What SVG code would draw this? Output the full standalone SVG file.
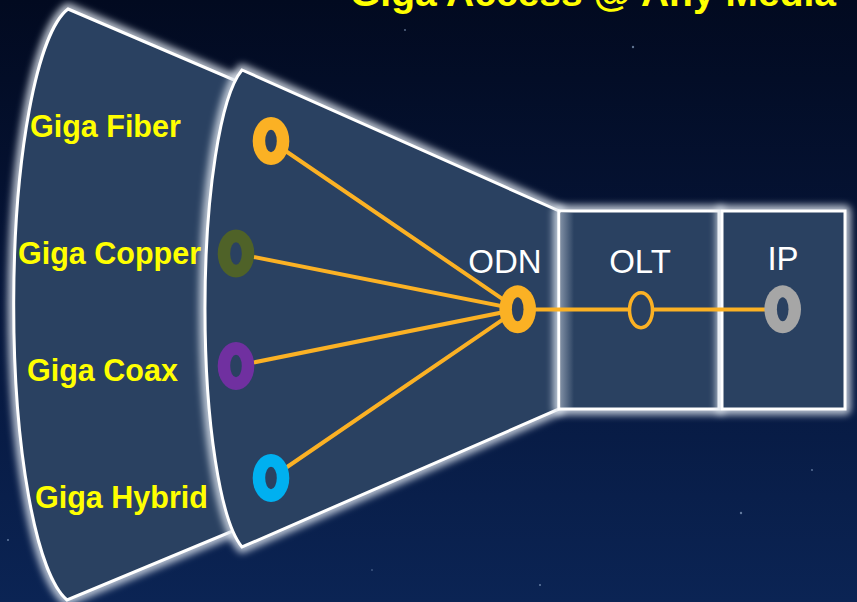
<svg xmlns="http://www.w3.org/2000/svg" width="857" height="602" viewBox="0 0 857 602">
  <defs>
    <linearGradient id="bg" x1="0" y1="0" x2="0" y2="1">
      <stop offset="0" stop-color="#020a20"/>
      <stop offset="0.55" stop-color="#06173d"/>
      <stop offset="1" stop-color="#0b2454"/>
    </linearGradient>
    <linearGradient id="innerGlow" x1="0" y1="0" x2="1" y2="0">
      <stop offset="0" stop-color="#dfe6ef" stop-opacity="0.45"/>
      <stop offset="1" stop-color="#dfe6ef" stop-opacity="0"/>
    </linearGradient>
    <filter id="blur" x="-20%" y="-20%" width="140%" height="140%">
      <feGaussianBlur stdDeviation="3.5"/>
    </filter>
  </defs>
  <style>
    .glow { fill: none; stroke: #dfe6ef; stroke-width: 12; stroke-opacity: 0.8; filter: url(#blur); stroke-linejoin: round; }
    .panel { fill: #2a4161; stroke: #ffffff; stroke-width: 3; stroke-linejoin: miter; }
    .media { font-family: "Liberation Sans", Arial, sans-serif; font-weight: bold; font-size: 30.5px; fill: #ffff00; }
    .stage { font-family: "Liberation Sans", Arial, sans-serif; font-size: 33px; fill: #ffffff; text-anchor: middle; }
    .title { font-family: "Liberation Sans", Arial, sans-serif; font-weight: bold; font-size: 39px; fill: #ffff00; text-anchor: end; }
    .link { fill: none; stroke: #fbb124; stroke-width: 4; stroke-linecap: round; }
    .hole { fill: #2a4161; }
    .star { fill: #9fb8d8; }
  </style>

  <rect x="0" y="0" width="857" height="602" fill="url(#bg)"/>
  <g id="stars" opacity="0.6">
    <circle class="star" cx="633" cy="47" r="1.2"/>
    <circle class="star" cx="22" cy="178" r="1.3"/>
    <circle class="star" cx="8" cy="540" r="1"/>
    <circle class="star" cx="741" cy="513" r="1.2"/>
    <circle class="star" cx="405" cy="30" r="0.9"/>
    <circle class="star" cx="540" cy="585" r="1"/>
    <circle class="star" cx="812" cy="470" r="0.9"/>
    <circle class="star" cx="372" cy="570" r="0.8"/>
  </g>

  <text id="title" class="title" x="836" y="6">Giga Access @ Any Media</text>

  <g id="media-panel">
    <path class="glow" d="M68,9 L240,82.5 L240,528 L67,600 A65,300 0 0 1 68,9 Z"/>
    <path class="panel" d="M68,9 L240,82.5 L240,528 L67,600 A65,300 0 0 1 68,9 Z"/>
  </g>

  <g id="odn-panel">
    <path class="glow" d="M242,70 L559,211 L559,409 L242,547 A48,245 0 0 1 242,70 Z"/>
    <path class="panel" d="M242,70 L559,211 L559,409 L242,547 A48,245 0 0 1 242,70 Z"/>
    <text class="stage" x="505" y="273">ODN</text>
  </g>

  <g id="olt">
    <rect class="glow" x="559" y="211" width="160" height="198"/>
    <rect class="panel" x="559" y="211" width="160" height="198"/>
    <rect x="561" y="213" width="13" height="195" fill="url(#innerGlow)"/>
    <text class="stage" x="640" y="273">OLT</text>
  </g>

  <g id="ip">
    <rect class="glow" x="722" y="211" width="123" height="198"/>
    <rect class="panel" x="722" y="211" width="123" height="198"/>
    <text class="stage" x="783" y="270">IP</text>
  </g>

  <g id="labels">
    <text class="media" x="30" y="137">Giga Fiber</text>
    <text class="media" x="18" y="264">Giga Copper</text>
    <text class="media" x="27" y="381">Giga Coax</text>
    <text class="media" x="35" y="508">Giga Hybrid</text>
  </g>

  <g id="connectors">
    <line class="link" x1="271" y1="141" x2="517.7" y2="309.3"/>
    <line class="link" x1="236" y1="253.5" x2="517.7" y2="309.3"/>
    <line class="link" x1="236" y1="366" x2="517.7" y2="309.3"/>
    <line class="link" x1="271" y1="478" x2="517.7" y2="309.3"/>
    <line class="link" x1="517.7" y1="309.5" x2="782.7" y2="309.5"/>
  </g>

  <g id="node-fiber">
    <ellipse cx="271" cy="141" rx="18.3" ry="24" fill="#fbb124"/>
    <ellipse class="hole" cx="271" cy="141" rx="5.8" ry="11.2"/>
  </g>
  <g id="node-copper">
    <ellipse cx="236" cy="253.5" rx="18.3" ry="24" fill="#4f6228"/>
    <ellipse class="hole" cx="236" cy="253.5" rx="5.8" ry="11.2"/>
  </g>
  <g id="node-coax">
    <ellipse cx="236" cy="366" rx="18.3" ry="24" fill="#7030a0"/>
    <ellipse class="hole" cx="236" cy="366" rx="5.8" ry="11.2"/>
  </g>
  <g id="node-hybrid">
    <ellipse cx="271" cy="478" rx="18.3" ry="24" fill="#00b0f0"/>
    <ellipse class="hole" cx="271" cy="478" rx="5.8" ry="11.2"/>
  </g>
  <g id="node-odn">
    <ellipse cx="517.7" cy="309.3" rx="18.3" ry="24" fill="#fbb124"/>
    <ellipse class="hole" cx="517.7" cy="309.3" rx="5.8" ry="12"/>
  </g>
  <g id="node-olt">
    <ellipse cx="641" cy="310.2" rx="11.5" ry="17.5" fill="#2a4161" stroke="#fbb124" stroke-width="3.5"/>
  </g>
  <g id="node-ip">
    <ellipse cx="782.7" cy="309.3" rx="18.3" ry="24" fill="#a6a6a6"/>
    <ellipse class="hole" cx="782.7" cy="309.3" rx="5.8" ry="12"/>
  </g>
</svg>
